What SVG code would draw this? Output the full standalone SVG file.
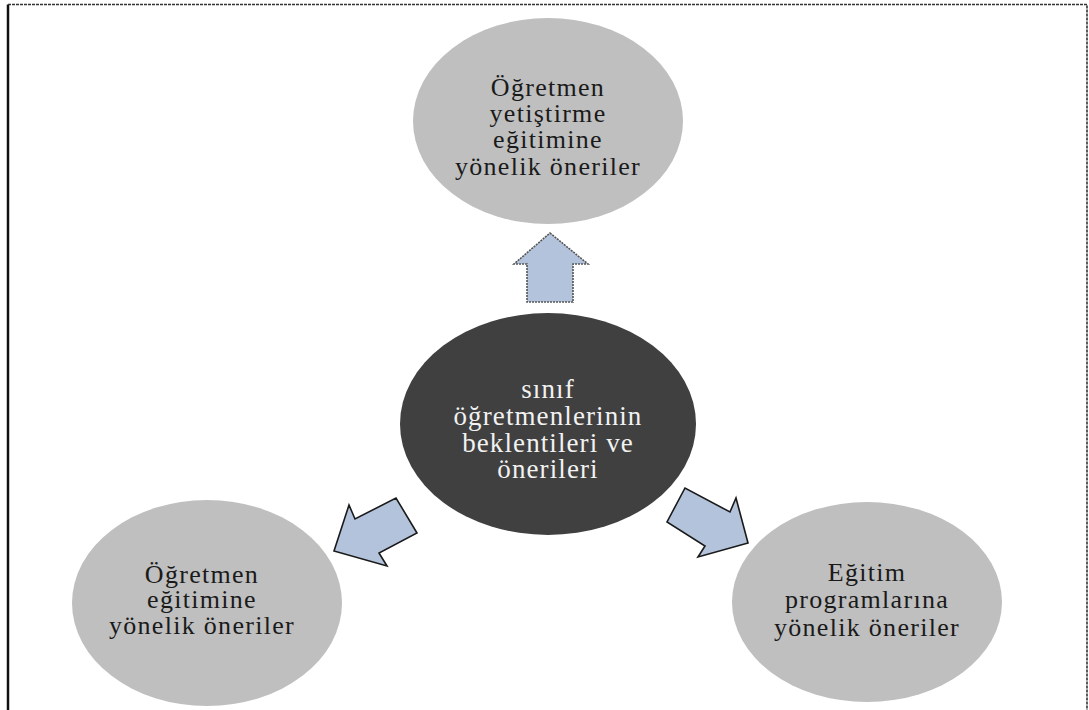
<svg xmlns="http://www.w3.org/2000/svg" width="1089" height="710" viewBox="0 0 1089 710">
<style>
.g{fill:#bfbfbf}
.d{fill:#404040}
.t{font-family:"Liberation Serif","Times New Roman",serif;font-size:26px;letter-spacing:1.3px;text-anchor:middle;fill:#1a1a1a}
.w{font-family:"Liberation Serif","Times New Roman",serif;font-size:27px;letter-spacing:1.1px;text-anchor:middle;fill:#f2f2f2}
.a{fill:#b3c3dc;stroke:#1a1a1a;stroke-width:1.6;stroke-linejoin:miter}
</style>
<rect width="1089" height="710" fill="#fff"/>
<path d="M8,710 V4.5" fill="none" stroke="#111" stroke-width="2.5"/>
<path d="M8,4.5 H1087 V710" fill="none" stroke="#333" stroke-width="1.6" stroke-dasharray="3 1"/>
<g id="connectors">
<path class="a" d="M550,233 L588,264 L573,264 L573,302 L527,302 L527,264 L514,264 Z" style="stroke:#555;stroke-dasharray:2 1"/>
<path class="a" d="M334,551 L349,505 L355,519 L396,498 L417,533 L379,553 L387,566 Z"/>
<path class="a" d="M748,543 L698,557 L705,546 L667,522 L685,488 L730,512 L736,498 Z"/>
</g>
<g id="top">
<ellipse class="g" cx="548" cy="121" rx="135" ry="103"/>
<text class="t" x="548" y="96">Öğretmen</text>
<text class="t" x="548" y="122">yetiştirme</text>
<text class="t" x="548" y="148">eğitimine</text>
<text class="t" x="548" y="175">yönelik öneriler</text>
</g>
<g id="center">
<ellipse class="d" cx="548" cy="424" rx="148" ry="111"/>
<text class="w" x="548" y="398">sınıf</text>
<text class="w" x="548" y="425">öğretmenlerinin</text>
<text class="w" x="548" y="452">beklentileri ve</text>
<text class="w" x="548" y="478">önerileri</text>
</g>
<g id="left">
<ellipse class="g" cx="207" cy="603" rx="135" ry="103"/>
<text class="t" x="202" y="583">Öğretmen</text>
<text class="t" x="202" y="608">eğitimine</text>
<text class="t" x="202" y="634">yönelik öneriler</text>
</g>
<g id="right">
<ellipse class="g" cx="867" cy="602" rx="135" ry="100"/>
<text class="t" x="867" y="581">Eğitim</text>
<text class="t" x="867" y="608">programlarına</text>
<text class="t" x="867" y="636">yönelik öneriler</text>
</g>
</svg>
